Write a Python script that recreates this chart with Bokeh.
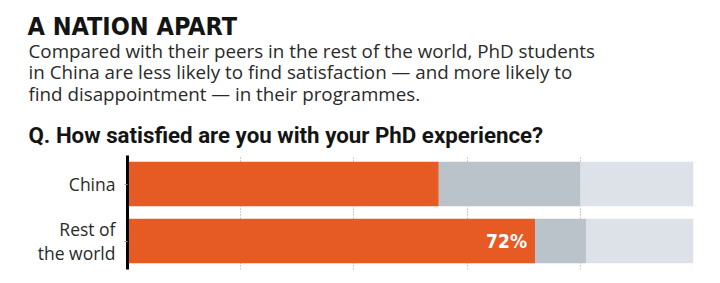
from bokeh.plotting import figure
from bokeh.layouts import column
from bokeh.models import ColumnDataSource, FactorRange, Range1d, Label, LabelSet, Grid, FixedTicker
from bokeh.core.properties import value
from bokeh.embed import file_html
from bokeh.resources import INLINE

# ---- data ----
categories = ["Rest of\nthe world", "China"]
satisfied = [72, 55]
neutral = [9, 25]
dissatisfied = [19, 20]
bar_labels = ["72%", ""]
grid_ticks = [20, 40, 60, 80, 100]

title_text = "A NATION APART"
subtitle_lines = [
    "Compared with their peers in the rest of the world, PhD students",
    "in China are less likely to find satisfaction \u2014 and more likely to",
    "find disappointment \u2014 in their programmes.",
]
question_text = "Q. How satisfied are you with your PhD experience?"

ORANGE = "#E65A24"
MID = "#BBC3CA"
LIGHT = "#DDE2E8"
TXT = "#2a2a2a"

# ---- header figure (texts) ----
HEAD_H = 155
head = figure(width=720, height=HEAD_H, output_backend="svg", toolbar_location=None,
              x_range=Range1d(0, 720), y_range=Range1d(HEAD_H, 0),
              x_axis_location=None, y_axis_location=None,
              min_border=0, min_border_left=0, min_border_right=0,
              min_border_top=0, min_border_bottom=0)
head.outline_line_color = None
head.grid.visible = False
head.frame_align = False

def add_text(txt, x, baseline, size, font, style="normal", color=TXT):
    head.add_layout(Label(x=x, y=baseline, text=txt, text_font=font,
                          text_font_size=size, text_font_style=style,
                          text_color=color, text_baseline="alphabetic",
                          text_align="left"))

add_text(title_text, 27, 26, "25px", "DejaVu Sans Condensed", "bold", "#141414")
for i, line in enumerate(subtitle_lines):
    add_text(line, 28, 50 + i * 21.5, "18.8px", "Open Sans")
add_text(question_text, 28, 134, "22.3px", "Roboto", "bold", "#141414")

# ---- chart figure ----
source = ColumnDataSource(dict(
    cat=categories, satisfied=satisfied, neutral=neutral,
    dissatisfied=dissatisfied, lab=bar_labels,
))

p = figure(width=720, height=283 - HEAD_H, output_backend="svg", toolbar_location=None,
           y_range=FactorRange(factors=categories, range_padding=0),
           x_range=Range1d(0, 100), x_axis_location=None,
           min_border_left=127, min_border_right=27, min_border_top=0,
           min_border_bottom=14)
p.outline_line_color = None
p.background_fill_color = "white"
p.xgrid.visible = False
p.ygrid.visible = False
p.frame_align = False

p.add_layout(Grid(dimension=0, ticker=FixedTicker(ticks=grid_ticks),
                  grid_line_color="#9a9a9a", grid_line_dash="1 2",
                  grid_line_width=1))

p.hbar_stack(["satisfied", "neutral", "dissatisfied"], y="cat", height=0.78,
             color=[ORANGE, MID, LIGHT], line_color=None, source=source)

p.add_layout(LabelSet(x="satisfied", y="cat", text="lab", source=source,
                      x_offset=-8, text_align="right", text_baseline="middle",
                      text_color="white", text_font=value("DejaVu Sans Condensed"),
                      text_font_style="bold", text_font_size="19px"))

ax = p.yaxis[0]
ax.axis_line_color = "black"
ax.axis_line_width = 3
ax.major_tick_out = 3
ax.major_tick_in = 0
ax.major_tick_line_color = "#999999"
ax.minor_tick_line_color = None
ax.major_label_standoff = 9
ax.major_label_text_font = "Open Sans"
ax.major_label_text_font_size = "17.5px"
ax.major_label_text_line_height = 1.0
ax.major_label_text_color = TXT

layout = column(head, p, spacing=0)
open("out.html", "w").write(file_html(layout, INLINE))
